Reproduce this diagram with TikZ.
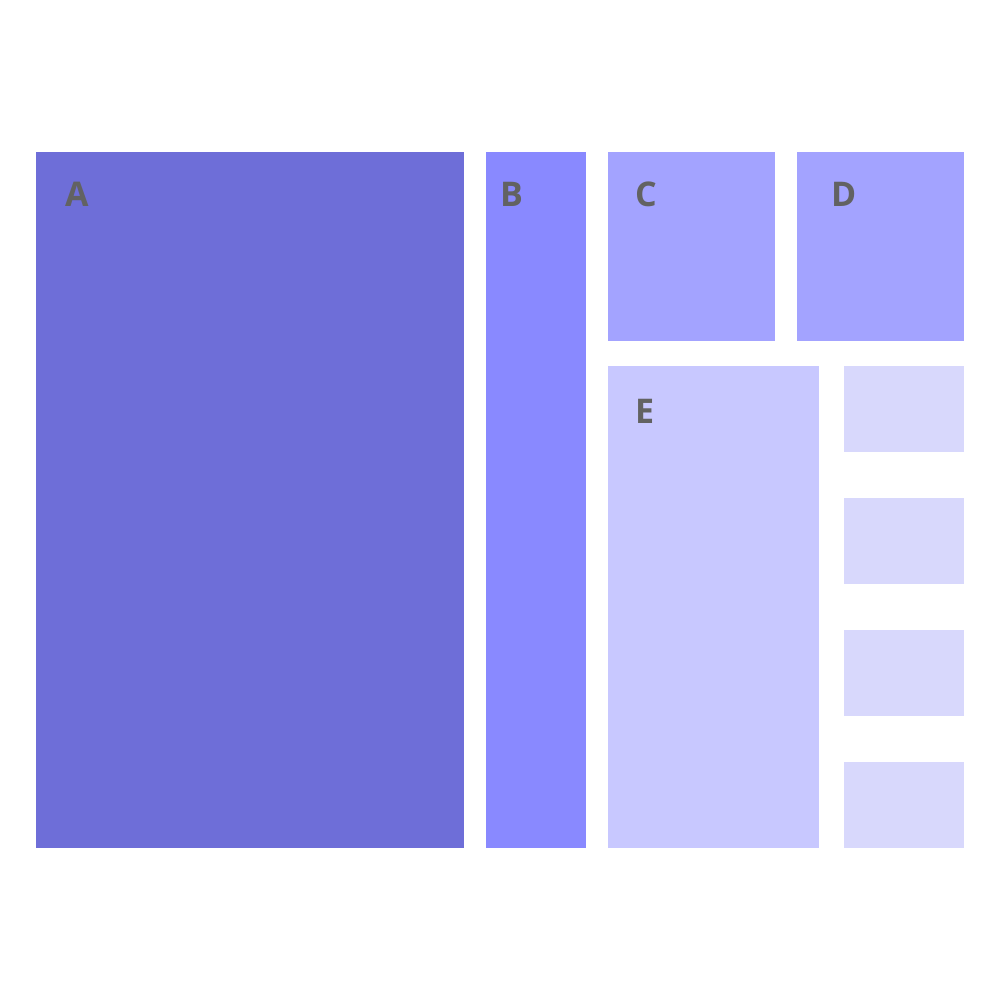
\documentclass[tikz,border=0pt]{standalone}
\usepackage{fontspec}
\setmainfont{Open Sans}
\definecolor{cA}{HTML}{6E6ED8}
\definecolor{cB}{HTML}{8989FF}
\definecolor{cC}{HTML}{A3A3FF}
\definecolor{cE}{HTML}{C8C8FF}
\definecolor{cS}{HTML}{D8D8FC}
\definecolor{lbl}{HTML}{626262}
\begin{document}
\begin{tikzpicture}[x=1pt,y=-1pt,
  blk/.style={fill=#1,draw=none},
  lab/.style={anchor=base west,inner sep=0pt,text=lbl,font=\fontsize{34}{34}\selectfont\bfseries}]
\useasboundingbox[fill=white] (0,0) rectangle (1000,1000);
\fill[blk=cA] (36,152) rectangle (464,848);
\fill[blk=cB] (486,152) rectangle (586,848);
\fill[blk=cC] (608,152) rectangle (775,341);
\fill[blk=cC] (797,152) rectangle (964,341);
\fill[blk=cE] (608,366) rectangle (819,848);
\fill[blk=cS] (844,366) rectangle (964,452);
\fill[blk=cS] (844,498) rectangle (964,584);
\fill[blk=cS] (844,630) rectangle (964,716);
\fill[blk=cS] (844,762) rectangle (964,848);
\node[lab] (la) at (65,207) {A};
\node[lab] (lb) at (500,207) {B};
\node[lab] (lc) at (635,207) {C};
\node[lab] (ld) at (831,207) {D};
\node[lab] (le) at (635,423) {E};
\end{tikzpicture}
\end{document}
